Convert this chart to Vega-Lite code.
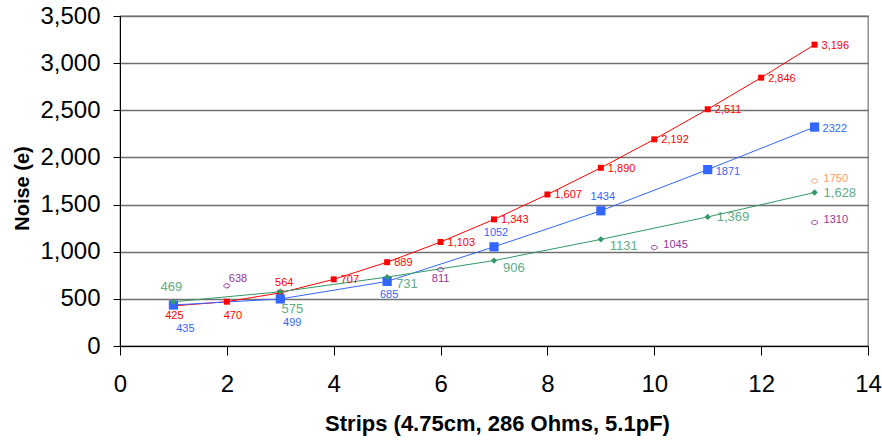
{
  "$schema": "https://vega.github.io/schema/vega-lite/v6.json",
  "width": 748,
  "height": 330,
  "autosize": {"type": "none"},
  "padding": {"left": 120, "top": 16, "right": 14, "bottom": 94},
  "background": "white",
  "config": {
    "font": "Liberation Sans",
    "view": {"stroke": "#808080", "strokeWidth": 1.3},
    "axis": {"labelFont": "Liberation Sans", "labelColor": "#000000", "labelFontSize": 24, "labelFlush": false, "domainColor": "#000000", "tickColor": "#000000", "titleColor": "#000000"}
  },
  "data": {"values": [
    {"series": "S1", "x": 1, "y": 425, "label": "425"},
    {"series": "S1", "x": 2, "y": 470, "label": "470"},
    {"series": "S1", "x": 3, "y": 564, "label": "564"},
    {"series": "S1", "x": 4, "y": 707, "label": "707"},
    {"series": "S1", "x": 5, "y": 889, "label": "889"},
    {"series": "S1", "x": 6, "y": 1103, "label": "1,103"},
    {"series": "S1", "x": 7, "y": 1343, "label": "1,343"},
    {"series": "S1", "x": 8, "y": 1607, "label": "1,607"},
    {"series": "S1", "x": 9, "y": 1890, "label": "1,890"},
    {"series": "S1", "x": 10, "y": 2192, "label": "2,192"},
    {"series": "S1", "x": 11, "y": 2511, "label": "2,511"},
    {"series": "S1", "x": 12, "y": 2846, "label": "2,846"},
    {"series": "S1", "x": 13, "y": 3196, "label": "3,196"},
    {"series": "S2", "x": 1, "y": 435, "label": "435"},
    {"series": "S2", "x": 3, "y": 499, "label": "499"},
    {"series": "S2", "x": 5, "y": 685, "label": "685"},
    {"series": "S2", "x": 7, "y": 1052, "label": "1052"},
    {"series": "S2", "x": 9, "y": 1434, "label": "1434"},
    {"series": "S2", "x": 11, "y": 1871, "label": "1871"},
    {"series": "S2", "x": 13, "y": 2322, "label": "2322"},
    {"series": "S3", "x": 1, "y": 469, "label": "469"},
    {"series": "S3", "x": 3, "y": 575, "label": "575"},
    {"series": "S3", "x": 5, "y": 731, "label": "731"},
    {"series": "S3", "x": 7, "y": 906, "label": "906"},
    {"series": "S3", "x": 9, "y": 1131, "label": "1131"},
    {"series": "S3", "x": 11, "y": 1369, "label": "1,369"},
    {"series": "S3", "x": 13, "y": 1628, "label": "1,628"},
    {"series": "S4", "x": 2, "y": 638, "label": "638"},
    {"series": "S4", "x": 6, "y": 811, "label": "811"},
    {"series": "S4", "x": 10, "y": 1045, "label": "1045"},
    {"series": "S4", "x": 13, "y": 1310, "label": "1310"},
    {"series": "S5", "x": 13, "y": 1750, "label": "1750"}
  ]},
  "encoding": {
    "x": {"field": "x", "type": "quantitative", "scale": {"domain": [0, 14], "nice": false},
      "axis": {"values": [0, 2, 4, 6, 8, 10, 12, 14], "grid": false, "tickSize": 9, "labelPadding": 17, "title": "Strips (4.75cm, 286 Ohms, 5.1pF)", "titleFont": "Liberation Sans", "titleFontSize": 22, "titleFontWeight": "bold", "titleX": 377, "titleY": 77, "titleBaseline": "middle", "titleAnchor": "middle", "titleAlign": "center"}},
    "y": {"field": "y", "type": "quantitative", "scale": {"domain": [0, 3500], "nice": false},
      "axis": {"values": [0, 500, 1000, 1500, 2000, 2500, 3000, 3500], "format": ",d", "grid": true, "gridColor": "#707070", "gridWidth": 1.3, "tickSize": 7, "labelPadding": 13, "title": "Noise (e)", "titleFont": "Liberation Sans", "titleFontSize": 20, "titleFontWeight": "bold", "titleAngle": -90, "titleX": -98, "titleY": 172, "titleBaseline": "middle", "titleAlign": "center"}},
    "color": {"field": "series", "type": "nominal", "legend": null,
      "scale": {"domain": ["S1", "S2", "S3", "S4", "S5"], "range": ["#FF0000", "#3366FF", "#339966", "#993399", "#FF9966"]}}
  },
  "layer": [
    {"transform": [{"filter": "indexof(['S1','S2','S3'], datum.series) >= 0"}],
     "mark": {"type": "line", "strokeWidth": 1, "interpolate": "linear"},
     "encoding": {"detail": {"field": "series"}}},
    {"transform": [{"filter": "datum.series === 'S1'"}],
     "mark": {"type": "point", "shape": "square", "filled": true, "size": 36, "opacity": 1}},
    {"transform": [{"filter": "datum.series === 'S2'"}],
     "mark": {"type": "point", "shape": "square", "filled": true, "size": 85, "opacity": 1}},
    {"transform": [{"filter": "datum.series === 'S3'"}],
     "mark": {"type": "point", "shape": "diamond", "filled": true, "size": 40, "opacity": 1}},
    {"transform": [{"filter": "datum.series === 'S4' || datum.series === 'S5'"}],
     "mark": {"type": "point", "shape": "M -1 0 A 1 0.7 0 1 0 1 0 A 1 0.7 0 1 0 -1 0 Z", "filled": false, "size": 36, "strokeWidth": 1, "opacity": 1}},
    {"transform": [{"filter": "datum.series === 'S1' && datum.x >= 4"}],
     "mark": {"type": "text", "align": "left", "baseline": "middle", "dx": 7, "dy": 1, "fontSize": 11},
     "encoding": {"text": {"field": "label"}}},
    {"transform": [{"filter": "datum.series === 'S1' && datum.x == 1"}],
     "mark": {"type": "text", "align": "center", "baseline": "middle", "dx": 1, "dy": 10, "fontSize": 11},
     "encoding": {"text": {"field": "label"}}},
    {"transform": [{"filter": "datum.series === 'S1' && datum.x == 2"}],
     "mark": {"type": "text", "align": "center", "baseline": "middle", "dx": 6, "dy": 14, "fontSize": 11},
     "encoding": {"text": {"field": "label"}}},
    {"transform": [{"filter": "datum.series === 'S1' && datum.x == 3"}],
     "mark": {"type": "text", "align": "center", "baseline": "middle", "dx": 4, "dy": -10, "fontSize": 11},
     "encoding": {"text": {"field": "label"}}},
    {"transform": [{"filter": "datum.series === 'S2' && datum.x <= 3"}],
     "mark": {"type": "text", "align": "center", "baseline": "middle", "dx": 12, "dy": 24, "fontSize": 11},
     "encoding": {"text": {"field": "label"}}},
    {"transform": [{"filter": "datum.series === 'S2' && datum.x == 5"}],
     "mark": {"type": "text", "align": "center", "baseline": "middle", "dx": 2, "dy": 14, "fontSize": 11},
     "encoding": {"text": {"field": "label"}}},
    {"transform": [{"filter": "datum.series === 'S2' && (datum.x == 7 || datum.x == 9)"}],
     "mark": {"type": "text", "align": "center", "baseline": "middle", "dx": 2, "dy": -14, "fontSize": 11},
     "encoding": {"text": {"field": "label"}}},
    {"transform": [{"filter": "datum.series === 'S2' && datum.x >= 11"}],
     "mark": {"type": "text", "align": "left", "baseline": "middle", "dx": 8, "dy": 2, "fontSize": 11},
     "encoding": {"text": {"field": "label"}}},
    {"transform": [{"filter": "datum.series === 'S3' && datum.x == 1"}],
     "mark": {"type": "text", "align": "center", "baseline": "middle", "dx": -2, "dy": -15, "fontSize": 13, "opacity": 0.8},
     "encoding": {"text": {"field": "label"}}},
    {"transform": [{"filter": "datum.series === 'S3' && datum.x == 3"}],
     "mark": {"type": "text", "align": "center", "baseline": "middle", "dx": 12, "dy": 17, "fontSize": 13, "opacity": 0.8},
     "encoding": {"text": {"field": "label"}}},
    {"transform": [{"filter": "datum.series === 'S3' && datum.x >= 5 && datum.x <= 9"}],
     "mark": {"type": "text", "align": "left", "baseline": "middle", "dx": 9, "dy": 7, "fontSize": 13, "opacity": 0.8},
     "encoding": {"text": {"field": "label"}}},
    {"transform": [{"filter": "datum.series === 'S3' && datum.x >= 11"}],
     "mark": {"type": "text", "align": "left", "baseline": "middle", "dx": 9, "dy": 0, "fontSize": 13, "opacity": 0.8},
     "encoding": {"text": {"field": "label"}}},
    {"transform": [{"filter": "datum.series === 'S4' && datum.x == 2"}],
     "mark": {"type": "text", "align": "left", "baseline": "middle", "dx": 2, "dy": -7, "fontSize": 11},
     "encoding": {"text": {"field": "label"}}},
    {"transform": [{"filter": "datum.series === 'S4' && datum.x == 6"}],
     "mark": {"type": "text", "align": "center", "baseline": "middle", "dx": 0, "dy": 9, "fontSize": 11},
     "encoding": {"text": {"field": "label"}}},
    {"transform": [{"filter": "(datum.series === 'S4' && datum.x >= 10) || datum.series === 'S5'"}],
     "mark": {"type": "text", "align": "left", "baseline": "middle", "dx": 9, "dy": -2, "fontSize": 11},
     "encoding": {"text": {"field": "label"}}}
  ]
}
